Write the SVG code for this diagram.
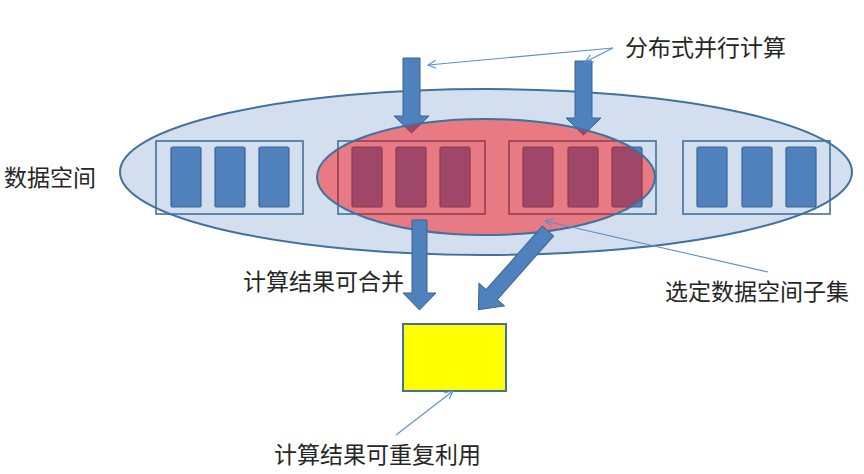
<svg xmlns="http://www.w3.org/2000/svg" width="864" height="474" viewBox="0 0 864 474">
<style>
.frame{fill:none;stroke:#41719c;stroke-width:1.6}
.cell{fill:#4f81bd;stroke:#3a6594;stroke-width:1.2}
.barrow{fill:#4f81bd;stroke:#3a6594;stroke-width:1}
.callout{fill:none;stroke:#5b8fd0;stroke-width:1.1}
.lbl{font-family:"Noto Sans CJK SC","Noto Sans",sans-serif;font-size:23px;fill:#262626}
</style>
<defs>
<marker id="open" viewBox="0 0 10 10" refX="9" refY="5" markerWidth="10" markerHeight="10" markerUnits="userSpaceOnUse" orient="auto">
<path d="M1,1 L9,5 L1,9" fill="none" stroke="#5b8fd0" stroke-width="1.1"/>
</marker>
</defs>
<rect width="864" height="474" fill="#ffffff"/>
<g id="data-space">
<ellipse cx="486" cy="172" rx="366" ry="83" fill="#d3dfee" stroke="#41719c" stroke-width="2"/>
</g>
<g id="block1">
<rect class="frame" x="156" y="141" width="147" height="73"/>
<rect class="cell" x="171" y="147" width="30" height="60" rx="2"/>
<rect class="cell" x="215" y="147" width="30" height="60" rx="2"/>
<rect class="cell" x="259" y="147" width="30" height="60" rx="2"/>
</g>
<g id="block2">
<rect class="frame" x="338" y="141" width="147" height="73"/>
<rect class="cell" x="352" y="147" width="30" height="60" rx="2"/>
<rect class="cell" x="396" y="147" width="30" height="60" rx="2"/>
<rect class="cell" x="440" y="147" width="30" height="60" rx="2"/>
</g>
<g id="block3">
<rect class="frame" x="509" y="141" width="147" height="73"/>
<rect class="cell" x="523" y="147" width="30" height="60" rx="2"/>
<rect class="cell" x="568" y="147" width="30" height="60" rx="2"/>
<rect class="cell" x="612" y="147" width="30" height="60" rx="2"/>
</g>
<g id="block4">
<rect class="frame" x="683" y="141" width="147" height="73"/>
<rect class="cell" x="697" y="147" width="30" height="60" rx="2"/>
<rect class="cell" x="742" y="147" width="30" height="60" rx="2"/>
<rect class="cell" x="786" y="147" width="30" height="60" rx="2"/>
</g>
<g id="connectors">
<path class="barrow" d="M403,58 H420 V116 H429 L411.5,133 L394,116 H403 Z"/>
<path class="barrow" d="M575,61 H592 V118 H601 L583.5,135 L566,118 H575 Z"/>
</g>
<g id="subset">
<ellipse cx="486" cy="177" rx="169" ry="58" fill="#ff0000" fill-opacity="0.45" stroke="#41719c" stroke-width="2"/>
</g>
<g id="connectors-lower">
<path class="barrow" d="M412,220 H427 V293 H436 L419.5,310 L403,293 H412 Z"/>
<path class="barrow" transform="translate(548,231) rotate(41.5)" d="M-7.5,0 H7.5 V85 H17 L0,105 L-17,85 H-7.5 Z"/>
</g>
<g id="result">
<rect x="403" y="324" width="103" height="67" fill="#ffff00" stroke="#41719c" stroke-width="2"/>
</g>
<g id="callouts">
<line class="callout" x1="613" y1="48" x2="428" y2="65" marker-end="url(#open)"/>
<line class="callout" x1="613" y1="48" x2="585" y2="62" marker-end="url(#open)"/>
<line class="callout" x1="768" y1="272" x2="545" y2="221" marker-end="url(#open)"/>
<line class="callout" x1="396" y1="435" x2="453" y2="391" marker-end="url(#open)"/>
</g>
<g id="labels">
<text class="lbl" x="625" y="56">分布式并行计算</text>
<text class="lbl" x="4" y="186">数据空间</text>
<text class="lbl" x="243" y="290">计算结果可合并</text>
<text class="lbl" x="665" y="300">选定数据空间子集</text>
<text class="lbl" x="274" y="463">计算结果可重复利用</text>
</g>
</svg>
